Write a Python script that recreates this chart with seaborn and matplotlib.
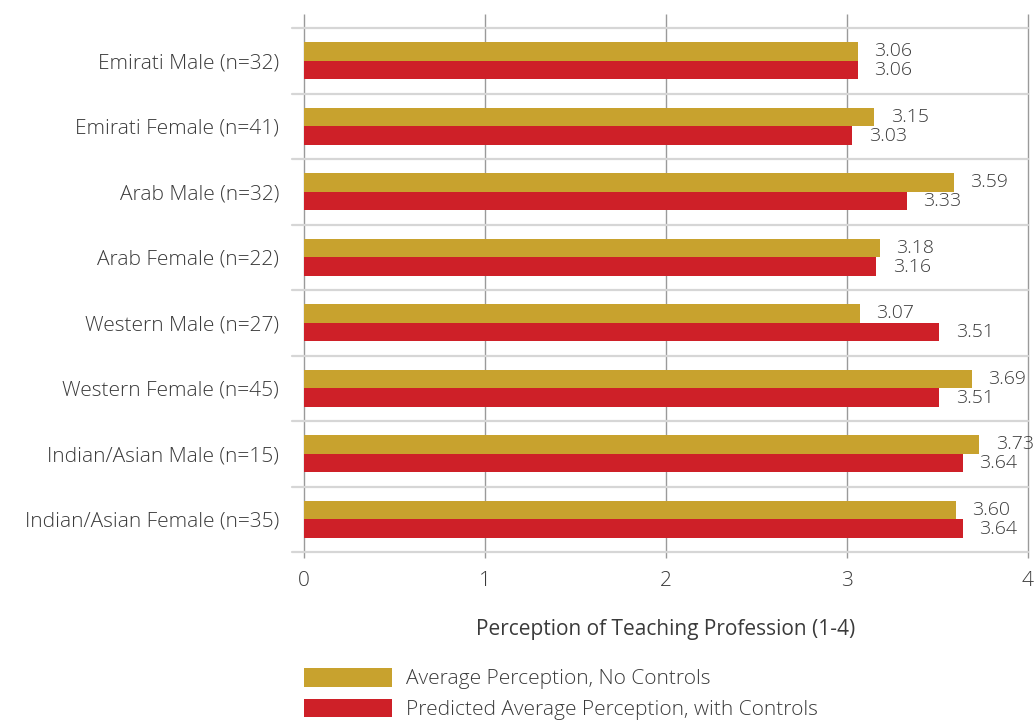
import matplotlib
matplotlib.use("Agg")
import matplotlib.pyplot as plt
from matplotlib.patches import Patch
import seaborn as sns
import pandas as pd

# Survey groups and their perception scores (scale 1-4)
groups = [
    "Emirati Male (n=32)",
    "Emirati Female (n=41)",
    "Arab Male (n=32)",
    "Arab Female (n=22)",
    "Western Male (n=27)",
    "Western Female (n=45)",
    "Indian/Asian Male (n=15)",
    "Indian/Asian Female (n=35)",
]
no_controls = [3.06, 3.15, 3.59, 3.18, 3.07, 3.69, 3.73, 3.60]
with_controls = [3.06, 3.03, 3.33, 3.16, 3.51, 3.51, 3.64, 3.64]

series_names = [
    "Average Perception, No Controls",
    "Predicted Average Perception, with Controls",
]
series_colors = ["#C8A22E", "#CE2028"]
x_ticks = [0, 1, 2, 3, 4]
x_label = "Perception of Teaching Profession (1-4)"

df = pd.DataFrame({
    "group": groups * 2,
    "value": no_controls + with_controls,
    "series": [series_names[0]] * len(groups) + [series_names[1]] * len(groups),
})

sns.set_theme(style="white")
plt.rcParams["font.family"] = ["Open Sans", "DejaVu Sans"]
plt.rcParams["font.weight"] = "light"
text_color = "#3a3a3a"

fig = plt.figure(figsize=(10.34, 7.2), dpi=100)
ax = fig.add_axes([304 / 1034, 1 - 552 / 720, 724 / 1034, 524 / 720])

sns.barplot(
    data=df, y="group", x="value", hue="series",
    order=groups, hue_order=series_names,
    palette=series_colors, orient="h", width=0.57,
    saturation=1, legend=False, linewidth=0, ax=ax,
)

ax.set_xlim(0, 4)
ax.set_ylim(len(groups) - 0.5, -0.5)

# vertical gridlines reaching slightly above the plot area
ax.vlines(x_ticks, -0.012, 1.027, transform=ax.get_xaxis_transform(),
          colors="#9a9a9a", linewidth=1.0, clip_on=False, zorder=0)
# light separators between groups, with short ticks to the left
for b in [i - 0.5 for i in range(len(groups) + 1)]:
    ax.plot([-0.016, 1.0], [b, b], transform=ax.get_yaxis_transform(),
            color="#d6d6d6", linewidth=1.6, clip_on=False, zorder=0)

for s in ax.spines.values():
    s.set_visible(False)

ax.set_xticks(x_ticks)
ax.set_xticklabels([str(t) for t in x_ticks], fontsize=15, color=text_color)
ax.tick_params(axis="x", length=0, pad=14)
ax.tick_params(axis="y", length=0, pad=18, labelsize=15, labelcolor=text_color)
for lbl in ax.get_yticklabels():
    lbl.set_fontweight("light")
ax.set_ylabel("")
ax.set_xlabel(x_label, fontsize=15, color=text_color, labelpad=20)

# value labels at the end of each bar
for container in ax.containers:
    ax.bar_label(container, fmt="%.2f", padding=12, fontsize=14, color=text_color)

handles = [Patch(facecolor=c, edgecolor="none") for c in series_colors]
fig.legend(handles, series_names, loc="upper left",
           bbox_to_anchor=(304 / 1034, 1 - 668 / 720), frameon=False,
           fontsize=15, handlelength=4.2, handleheight=1.0,
           handletextpad=0.7, labelspacing=0.45, borderpad=0,
           borderaxespad=0, labelcolor=text_color)

fig.savefig("out.png", dpi=100)
